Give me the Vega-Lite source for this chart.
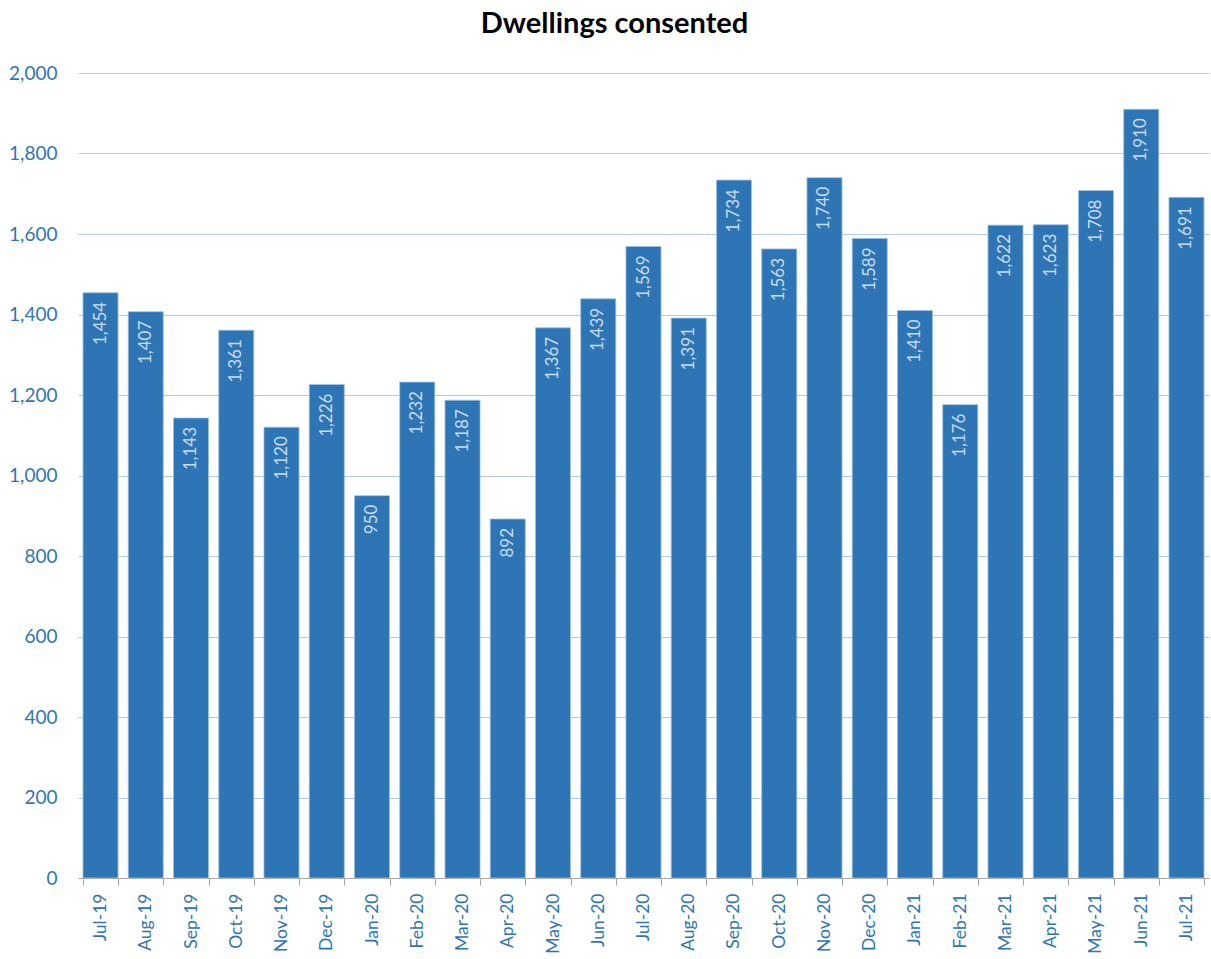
{
  "$schema": "https://vega.github.io/schema/vega-lite/v6.json",
  "width": 1131,
  "height": 805,
  "autosize": {"type": "none"},
  "padding": {"left": 78, "top": 73, "right": 2, "bottom": 81},
  "background": "white",
  "title": {
    "text": "Dwellings consented",
    "font": "Lato",
    "fontSize": 29,
    "fontWeight": "bold",
    "color": "#000000",
    "anchor": "middle",
    "dx": -29,
    "offset": 25
  },
  "data": {
    "values": [
      {"month": "Jul-19", "value": 1454},
      {"month": "Aug-19", "value": 1407},
      {"month": "Sep-19", "value": 1143},
      {"month": "Oct-19", "value": 1361},
      {"month": "Nov-19", "value": 1120},
      {"month": "Dec-19", "value": 1226},
      {"month": "Jan-20", "value": 950},
      {"month": "Feb-20", "value": 1232},
      {"month": "Mar-20", "value": 1187},
      {"month": "Apr-20", "value": 892},
      {"month": "May-20", "value": 1367},
      {"month": "Jun-20", "value": 1439},
      {"month": "Jul-20", "value": 1569},
      {"month": "Aug-20", "value": 1391},
      {"month": "Sep-20", "value": 1734},
      {"month": "Oct-20", "value": 1563},
      {"month": "Nov-20", "value": 1740},
      {"month": "Dec-20", "value": 1589},
      {"month": "Jan-21", "value": 1410},
      {"month": "Feb-21", "value": 1176},
      {"month": "Mar-21", "value": 1622},
      {"month": "Apr-21", "value": 1623},
      {"month": "May-21", "value": 1708},
      {"month": "Jun-21", "value": 1910},
      {"month": "Jul-21", "value": 1691}
    ]
  },
  "encoding": {
    "x": {
      "field": "month",
      "type": "nominal",
      "sort": null,
      "scale": {"paddingInner": 0.225, "paddingOuter": 0.11},
      "axis": {
        "title": null,
        "labelAngle": -90,
        "labelFont": "Lato",
        "labelFontSize": 17.5,
        "labelColor": "#2E75B6",
        "labelPadding": 8,
        "domainColor": "#A6A6A6",
        "tickColor": "#A6A6A6",
        "tickBand": "extent",
        "tickSize": 7,
        "grid": false
      }
    },
    "y": {
      "field": "value",
      "type": "quantitative",
      "scale": {"domain": [0, 2000], "nice": false},
      "axis": {
        "title": null,
        "values": [0, 200, 400, 600, 800, 1000, 1200, 1400, 1600, 1800, 2000],
        "format": ",.0f",
        "labelFont": "Lato",
        "labelFontSize": 19,
        "labelColor": "#2E75B6",
        "labelPadding": 21,
        "domain": false,
        "ticks": false,
        "grid": true,
        "gridColor": "#B4C7E7",
        "gridWidth": 1
      }
    }
  },
  "layer": [
    {
      "mark": {"type": "bar", "color": "#2E75B6", "stroke": "#9DC3E6", "strokeWidth": 0.8}
    },
    {
      "mark": {
        "type": "text",
        "angle": -90,
        "align": "right",
        "baseline": "middle",
        "dx": -9,
        "font": "Lato",
        "fontSize": 17,
        "color": "#CADCF2"
      },
      "encoding": {
        "text": {"field": "value", "type": "quantitative", "format": ",.0f"}
      }
    }
  ],
  "config": {"view": {"stroke": null}}
}
